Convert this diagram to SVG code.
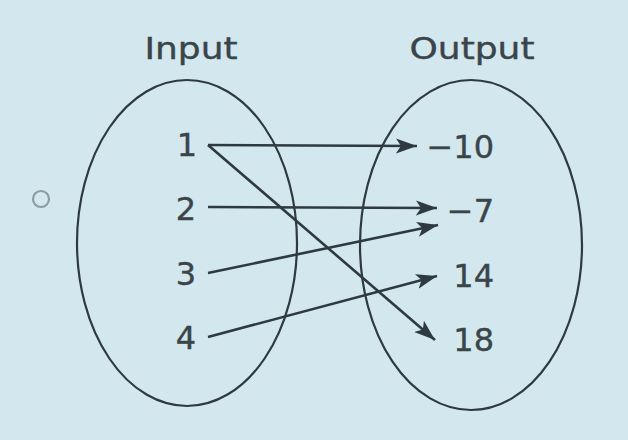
<svg xmlns="http://www.w3.org/2000/svg" width="628" height="440" viewBox="0 0 628 440">
<style>
.bg{fill:#d3e7ee}
.set{fill:none;stroke:#2e3a3f;stroke-width:2.2}
.lbl{font-family:"DejaVu Sans",Verdana,sans-serif;font-size:31px;fill:#3a4549;stroke:#3a4549;stroke-width:0.4}
.num{font-family:"DejaVu Sans",Verdana,sans-serif;font-size:32px;fill:#3a4549;stroke:#3a4549;stroke-width:0.4}
.arr{fill:none;stroke:#2e3a3f;stroke-width:2.6;marker-end:url(#ah)}
</style>
<defs>
<marker id="ah" markerUnits="userSpaceOnUse" markerWidth="22" markerHeight="18" viewBox="0 0 22 18" refX="21" refY="9" orient="auto">
<path d="M0,1.5 L21,9 L0,16.5 L5,9 z" fill="#2e3a3f"/>
</marker>
</defs>
<rect class="bg" x="0" y="0" width="628" height="440"/>
<circle cx="41" cy="199" r="8" fill="none" stroke="#8b9ca2" stroke-width="2.2"/>
<g id="input-set">
<ellipse class="set" cx="187" cy="243" rx="110" ry="163"/>
<text class="lbl" x="191" y="59" text-anchor="middle" textLength="93" lengthAdjust="spacingAndGlyphs">Input</text>
</g>
<g id="output-set">
<ellipse class="set" cx="471" cy="245" rx="111" ry="165"/>
<text class="lbl" x="472" y="59" text-anchor="middle" textLength="125" lengthAdjust="spacingAndGlyphs">Output</text>
</g>
<g id="in-1"><text class="num" x="187" y="156" text-anchor="middle">1</text></g>
<g id="in-2"><text class="num" x="186" y="220" text-anchor="middle">2</text></g>
<g id="in-3"><text class="num" x="186" y="285" text-anchor="middle">3</text></g>
<g id="in-4"><text class="num" x="186" y="349" text-anchor="middle">4</text></g>
<g id="out-m10"><text class="num" x="494" y="158" text-anchor="end">−10</text></g>
<g id="out-m7"><text class="num" x="494" y="222" text-anchor="end">−7</text></g>
<g id="out-14"><text class="num" x="494" y="287" text-anchor="end">14</text></g>
<g id="out-18"><text class="num" x="494" y="351" text-anchor="end">18</text></g>
<g id="connectors">
<line class="arr" x1="208" y1="145" x2="417" y2="146"/>
<line class="arr" x1="208" y1="145" x2="435" y2="340"/>
<line class="arr" x1="208" y1="207" x2="437" y2="208"/>
<line class="arr" x1="208" y1="273" x2="438" y2="225"/>
<line class="arr" x1="208" y1="337" x2="437" y2="276"/>
</g>
</svg>
